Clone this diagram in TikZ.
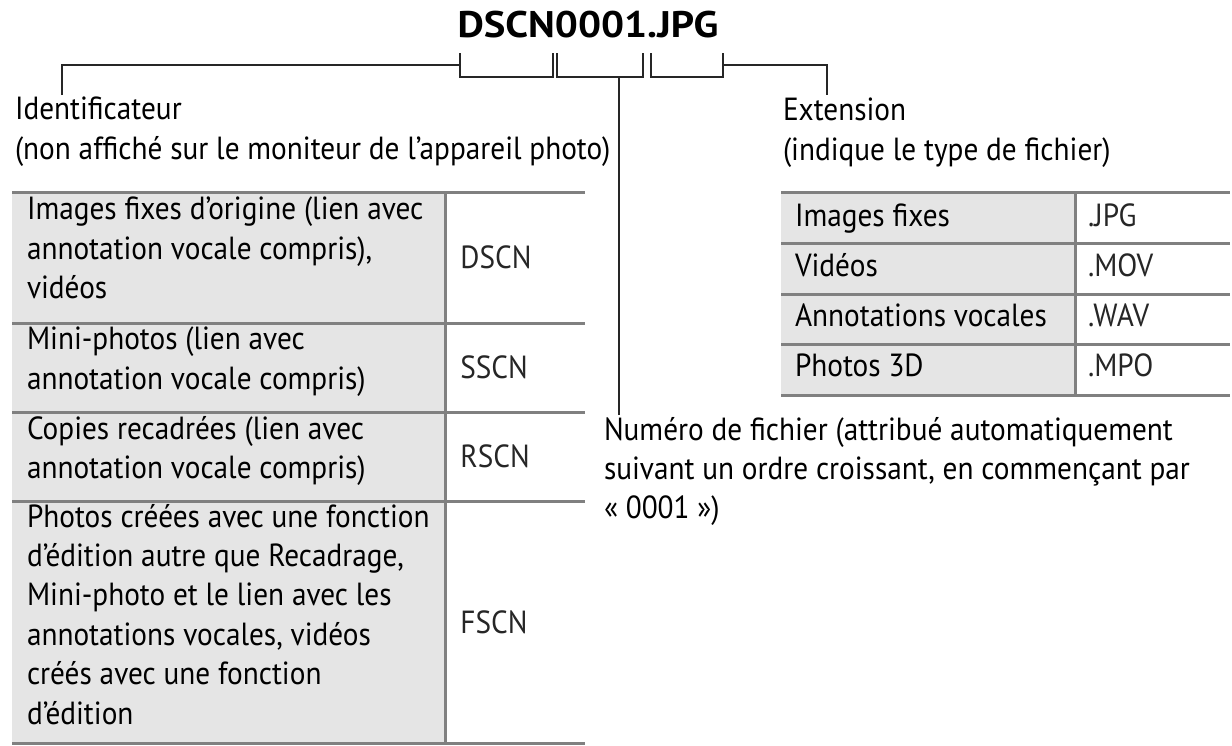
\documentclass[tikz,border=0pt]{standalone}
\usepackage{fontspec}
\setmainfont{PT Sans}[FakeStretch=0.915]
\newfontfamily\titlefont{PT Sans}[FakeStretch=1.1]
\begin{document}
\begin{tikzpicture}[x=0.5pt,y=-0.5pt,
  txt/.style={inner sep=0pt,outer sep=0pt,anchor=north west,align=left,
    font=\fontsize{16}{19.7}\selectfont,execute at begin node=\strut},
  code/.style={inner sep=0pt,anchor=west,text=black!85,font=\fontsize{16}{19.7}\selectfont},
  tline/.style={draw=black!50,line width=1.5pt},
  bline/.style={draw=black!85,line width=0.9pt},
  cellfill/.style={fill=black!10,draw=none}]
\useasboundingbox (0,0) rectangle (1232,745);
% title
\node[inner sep=0pt,anchor=base,font=\fontsize{18.5}{20}\titlefont\bfseries] (title) at (588,37) {DSCN0001.JPG};
% bracket coordinates
\coordinate (a1) at (460,53); \coordinate (a2) at (460,77); \coordinate (a3) at (553,77); \coordinate (a4) at (553,53);
\coordinate (b1) at (557,53); \coordinate (b2) at (557,77); \coordinate (b3) at (643,77); \coordinate (b4) at (643,53);
\coordinate (c1) at (651,53); \coordinate (c2) at (651,77); \coordinate (c3) at (723,77); \coordinate (c4) at (723,53);
\coordinate (aj) at (460,65); \coordinate (cj) at (723,65);
\coordinate (lt) at (62,65); \coordinate (lb) at (62,95);
\coordinate (rt) at (827,65); \coordinate (rb) at (827,95);
\coordinate (ms) at (619,77); \coordinate (me) at (619,415);
% labels
\node[txt] (ident) at (15,97) {Identificateur\\(non affiché sur le moniteur de l’appareil photo)};
\node[txt] (ext) at (783,98) {Extension\\(indique le type de fichier)};
\node[txt] (num) at (604,417) {Numéro de fichier (attribué automatiquement\\suivant un ordre croissant, en commençant par\\«~0001~»)};
% brackets
\draw[bline] (a1) -- (a2) -- (a3) -- (a4);
\draw[bline] (b1) -- (b2) -- (b3) -- (b4);
\draw[bline] (c1) -- (c2) -- (c3) -- (c4);
\draw[bline] (lb) -- (lt) -- (aj);
\draw[bline] (cj) -- (rt) -- (rb);
\draw[bline] (ms) -- (me);
% left table
\fill[cellfill] (12,192) rectangle (445,743);
\node[txt] (l1) at (27,197) {Images fixes d’origine (lien avec\\annotation vocale compris),\\vidéos};
\node[code] (c1t) at (460,257) {DSCN};
\node[txt] (l2) at (27,327) {Mini-photos (lien avec\\annotation vocale compris)};
\node[code] (c2t) at (460,367) {SSCN};
\node[txt] (l3) at (27,416) {Copies recadrées (lien avec\\annotation vocale compris)};
\node[code] (c3t) at (460,456) {RSCN};
\node[txt] (l4) at (27,504) {Photos créées avec une fonction\\d’édition autre que Recadrage,\\Mini-photo et le lien avec les\\annotations vocales, vidéos\\créés avec une fonction\\d’édition};
\node[code] (c4t) at (460,622) {FSCN};
\foreach \yy in {192,323,412,501,743} \draw[tline] (12,\yy) -- (585,\yy);
\draw[tline] (445,192) -- (445,743);
% right table
\fill[cellfill] (781,192) rectangle (1075,395);
\node[txt] (r1) at (795,199) {Images fixes};
\node[txt] (r2) at (795,249) {Vidéos};
\node[txt] (r3) at (795,299) {Annotations vocales};
\node[txt] (r4) at (795,349) {Photos 3D};
\node[txt,text=black!85] (s1) at (1088,199) {.JPG};
\node[txt,text=black!85] (s2) at (1088,249) {.MOV};
\node[txt,text=black!85] (s3) at (1088,299) {.WAV};
\node[txt,text=black!85] (s4) at (1088,349) {.MPO};
\foreach \yy in {192,243,294,344,395} \draw[tline] (781,\yy) -- (1230,\yy);
\draw[tline] (1075,192) -- (1075,395);
\end{tikzpicture}
\end{document}
